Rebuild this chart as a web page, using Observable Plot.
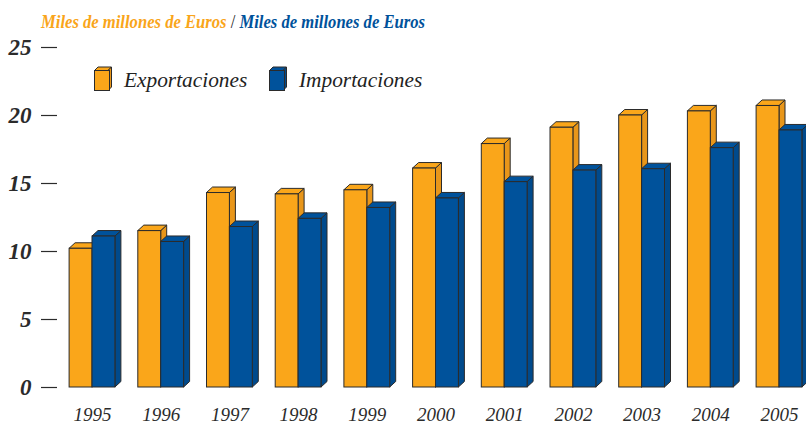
<!DOCTYPE html>
<html><head><meta charset="utf-8">
<script src="https://cdn.jsdelivr.net/npm/d3@7"></script>
<script src="https://cdn.jsdelivr.net/npm/@observablehq/plot@0.6"></script>
<style>
html,body{margin:0;padding:0;background:#fff;overflow:hidden}
#wrap{position:relative;width:806px;height:423px;font-family:"Liberation Serif",serif}
#title{position:absolute;left:41px;top:12px;white-space:nowrap;font:italic bold 18px "Liberation Serif",serif;transform-origin:0 50%;transform:scaleX(.923);color:#222}
.leg{position:absolute;top:67px;font:italic 21.35px "Liberation Serif",serif;color:#222;white-space:nowrap;line-height:26px}
.sw{position:absolute}
svg text{font-family:"Liberation Serif",serif}
</style></head><body>
<div id="wrap"></div>
<script>
const years = [1995,1996,1997,1998,1999,2000,2001,2002,2003,2004,2005];
const exportaciones = [10.2,11.5,14.3,14.2,14.5,16.1,17.9,19.1,20.0,20.3,20.7];
const importaciones = [11.1,10.7,11.8,12.4,13.2,13.9,15.1,15.95,16.05,17.6,18.9];
const yTicks = [0,5,10,15,20,25];
const titleText = "Miles de millones de Euros";
const names = ["Exportaciones","Importaciones"];
const colors = {orange:"#faa61a",orangeSide:"#e8961a",blue:"#00529b",blueSide:"#004a8c",ink:"#2b2b2b"};
const depthX = 6, depthY = 5.5, barSpan = 1/3;

function poly(g, pts, fill){
  const p = document.createElementNS("http://www.w3.org/2000/svg","path");
  p.setAttribute("d","M"+pts.map(q=>q.join(",")).join("L")+"Z");
  p.setAttribute("fill",fill);
  p.setAttribute("stroke",colors.ink);
  p.setAttribute("stroke-width","1");
  p.setAttribute("stroke-linejoin","round");
  g.insertBefore(p,g.firstChild);
}
const extrude = (top, side) => function(index, scales, values, dims, ctx, next){
  const g = next(index, scales, values, dims, ctx);
  for (const i of index){
    const x1=values.x1[i], x2=values.x2[i], yA=Math.min(values.y1[i],values.y2[i]), yB=Math.max(values.y1[i],values.y2[i]);
    poly(g,[[x1,yA],[x1+depthX,yA-depthY],[x2+depthX,yA-depthY],[x2,yA]],top);
    poly(g,[[x2,yA],[x2+depthX,yA-depthY],[x2+depthX,yB-depthY],[x2,yB]],side);
  }
  return g;
};
const bars = (vals, from, fill, side) => Plot.rect(years.map((d,i)=>({year:d,v:vals[i]})),{
  x1:d=>d.year+from, x2:d=>d.year+from+barSpan, y1:()=>0, y2:"v",
  fill, stroke:colors.ink, strokeWidth:1, render:extrude(fill,side)
});

const chart = Plot.plot({
  width:806, height:423, marginLeft:57, marginRight:0, marginTop:47, marginBottom:36,
  style:{background:"transparent",overflow:"visible"},
  x:{type:"linear",domain:[1995,2005],range:[92,779]},
  y:{domain:[0,25],range:[387,47]},
  marks:[
    Plot.axisY({ticks:yTicks,tickSize:16,tickPadding:10,tickFormat:"d",label:null,fontSize:23,fontWeight:"bold",fontStyle:"italic",color:colors.ink,stroke:colors.ink,strokeWidth:1.2}),
    Plot.axisX({ticks:years,tickSize:0,tickPadding:20,tickFormat:"d",label:null,fontSize:19,fontStyle:"italic",color:colors.ink}),
    bars(exportaciones,-barSpan,colors.orange,colors.orangeSide),
    bars(importaciones,0,colors.blue,colors.blueSide)
  ]
});
const wrap = document.getElementById("wrap");
wrap.appendChild(chart);

const t = document.createElement("div"); t.id="title";
t.innerHTML = `<span style="color:#f9a51a">${titleText}</span> <span style="font-weight:normal;font-style:normal">/</span> <span style="color:#00529b">${titleText}</span>`;
wrap.appendChild(t);

function swatch(left,front,side){
  const ns="http://www.w3.org/2000/svg";
  const s=document.createElementNS(ns,"svg");
  s.setAttribute("class","sw");s.setAttribute("width",22);s.setAttribute("height",28);
  s.style.left=left+"px";s.style.top="65px";
  s.innerHTML=`<path d="M1.5 5.5L5 2H18.5L15 5.5Z" fill="${front}" stroke="${colors.ink}"/><path d="M15 5.5L18.5 2V22L15 25.5Z" fill="${side}" stroke="${colors.ink}"/><rect x="1.5" y="5.5" width="15" height="20" fill="${front}" stroke="${colors.ink}"/>`;
  wrap.appendChild(s);
}
swatch(93,colors.orange,colors.orangeSide);
swatch(267.5,colors.blue,colors.blueSide);
[[124,names[0]],[299,names[1]]].forEach(([l,n])=>{
  const d=document.createElement("div");d.className="leg";d.style.left=l+"px";d.textContent=n;wrap.appendChild(d);
});
</script>
</body></html>
